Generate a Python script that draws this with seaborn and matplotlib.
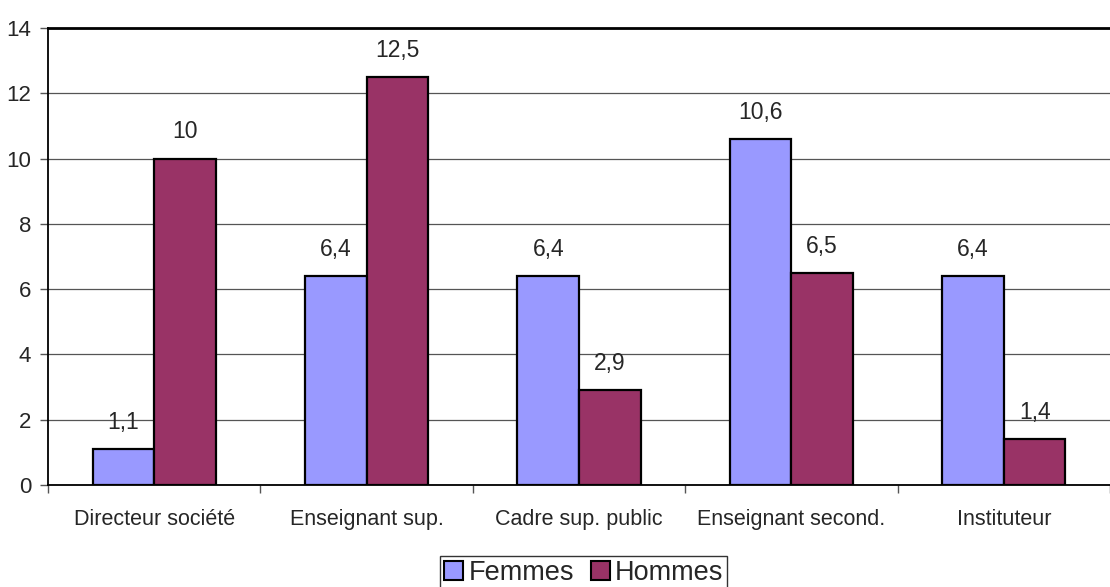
import matplotlib
matplotlib.use("Agg")
import matplotlib.pyplot as plt
import seaborn as sns
import pandas as pd
import numpy as np
from matplotlib.patches import Patch

categories = ["Directeur société", "Enseignant sup.", "Cadre sup. public", "Enseignant second.", "Instituteur"]
femmes = [1.1, 6.4, 6.4, 10.6, 6.4]
hommes = [10, 12.5, 2.9, 6.5, 1.4]
series = ["Femmes", "Hommes"]
colors = ["#9999FF", "#993366"]
yticks = [0, 2, 4, 6, 8, 10, 12, 14]

df = pd.DataFrame({
    "cat": categories * 2,
    "val": femmes + hommes,
    "serie": [series[0]] * len(categories) + [series[1]] * len(categories),
})

sns.set_style("white")
plt.rcParams['font.family'] = ['Liberation Sans', 'DejaVu Sans']

fig = plt.figure(figsize=(11.1, 5.87), dpi=100)
ax = fig.add_axes([48 / 1110, 1 - 485 / 587, 1 - 48 / 1110, (485 - 28) / 587])

sns.barplot(data=df, x="cat", y="val", hue="serie", palette=colors, width=0.58,
            edgecolor="black", linewidth=1.6, ax=ax, legend=False, saturation=1)

ax.set_ylim(0, 14)
ax.set_xlim(-0.5, len(categories) - 0.5)
ax.set_yticks(yticks)
ax.set_yticklabels([str(t) for t in yticks], fontsize=16)
ax.yaxis.grid(True, color="#555555", linewidth=0.9)
ax.set_axisbelow(True)
ax.set_xlabel("")
ax.set_ylabel("")
ax.tick_params(axis="y", left=True, length=6, width=1, color="#555555", pad=6)
ax.set_xticks(range(len(categories)))
ax.set_xticklabels(categories, fontsize=15.5)
ax.tick_params(axis="x", which="major", length=0, pad=17)
ax.set_xticks(np.arange(-0.5, len(categories) + 0.5, 1), minor=True)
ax.tick_params(axis="x", which="minor", bottom=True, length=6, width=1, color="#555555")

for s in ["left", "bottom", "top"]:
    ax.spines[s].set_color("black")
    ax.spines[s].set_linewidth(1.3)
ax.spines["top"].set_linewidth(2)
ax.spines["right"].set_visible(False)

for cont in ax.containers:
    labels = [f"{v:g}".replace(".", ",") for v in cont.datavalues]
    ax.bar_label(cont, labels=labels, padding=11, fontsize=16.5)

handles = [Patch(facecolor=c, edgecolor="black", linewidth=1.5) for c in colors]
fig.legend(handles, series, loc="upper center", bbox_to_anchor=(0.526, 1 - 556 / 587), ncol=2,
           fontsize=19.5, frameon=True, fancybox=False, edgecolor="black",
           handlelength=0.7, handleheight=0.7, handletextpad=0.2, columnspacing=0.6,
           borderpad=0.15, borderaxespad=0)

fig.savefig("out.png", dpi=100)
